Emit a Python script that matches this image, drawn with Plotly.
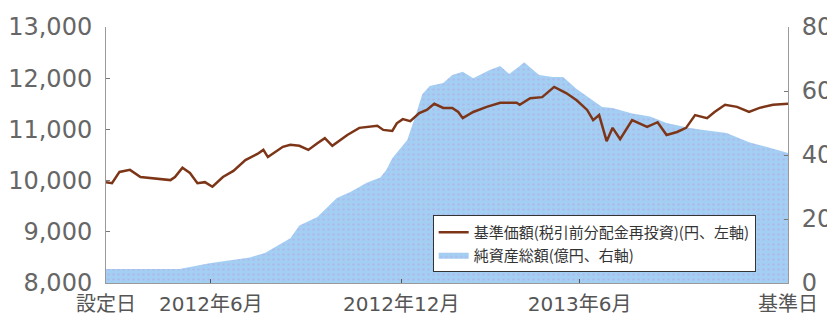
import plotly.graph_objects as go

# business-day index since inception
tick_pos = [0, 70, 197, 316, 455]
tick_text = ["設定日", "2012年6月", "2012年12月", "2013年6月", "基準日"]

nav_days = [0,4,9,16,23,29,36,43,46,51,56,61,66,71,78,85,93,101,105,108,
            118,123,129,135,141,146,151,161,169,178,181,185,191,194,198,203,209,214,219,225,
            231,235,238,245,254,263,274,276,283,291,299,307,314,321,325,329,334,338,343,351,
            361,368,374,381,387,393,401,406,413,421,429,436,445,455]
nav = [9970,9950,10170,10210,10070,10050,10030,10010,10070,10250,
       10150,9950,9970,9880,10070,10190,10400,10520,10600,10460,
       10660,10700,10680,10600,10730,10830,10680,10890,11030,11050,
       11070,10990,10970,11120,11200,11160,11320,11380,11500,11420,
       11420,11340,11220,11340,11440,11520,11520,11480,11610,11630,
       11830,11710,11570,11380,11180,11280,10770,11030,10810,11180,
       11050,11140,10890,10950,11030,11280,11220,11340,11480,11440,
       11340,11420,11480,11500]

asset_days = [0,49,56,69,96,106,123,129,141,154,163,174,183,187,191,198,201,207,211,216,
              225,231,238,245,256,263,269,276,279,285,289,298,305,314,323,331,338,351,363,374,
              387,396,414,429,441,455]
assets = [4.4,4.4,5,6.2,8,9.4,14,18,20.6,26.6,28.4,31.3,33,35.3,39,43,44.7,53,59,61.6,
          62.5,65,66,64,66.6,67.8,65.3,67.8,69,66.6,65,64.4,64.4,60.6,57.5,55,54.7,53,52,50,
          48.7,48,46.9,44,42.5,40.6]

left_ticks = [8000, 9000, 10000, 11000, 12000, 13000]
right_ticks = [0, 20, 40, 60, 80]

CJK = "Noto Sans CJK JP"
NUM = "DejaVu Sans"
MIX = "DejaVu Sans, Noto Sans CJK JP"
AXC = "#9a9a9a"

fig = go.Figure()
# area on primary (right-side) axis so the line on the overlaying axis is drawn on top
fig.add_trace(go.Scatter(
    x=asset_days, y=assets, yaxis="y", mode="lines",
    line=dict(width=0, color="#a3cff2"), fill="tozeroy", fillcolor="#a3cff2",
    fillpattern=dict(shape=".", fgcolor="#b7a4e6", bgcolor="#a3cff2", size=5, solidity=0.2),
    name="純資産総額(億円、右軸)", legendrank=2))
fig.add_trace(go.Scatter(
    x=nav_days, y=nav, yaxis="y2", mode="lines",
    line=dict(width=2.5, color="#7d3518"),
    name="基準価額(税引前分配金再投資)(円、左軸)", legendrank=1))

# page body has an 8px default margin, so the figure is sized/offset to compensate
fig.update_layout(
    width=827, height=308,
    margin=dict(l=98, r=47, t=19, b=33),
    paper_bgcolor="white", plot_bgcolor="white",
    font=dict(family=CJK, color="#555"),
    showlegend=True,
    legend=dict(x=0.479, y=0.266, xanchor="left", yanchor="top",
                bgcolor="white", bordercolor="#333", borderwidth=1,
                font=dict(size=15, color="#333", family=CJK),
                tracegroupgap=0, itemwidth=30),
    xaxis=dict(range=[0, 455], tickvals=tick_pos, ticktext=tick_text, automargin=False,
               showgrid=False, zeroline=False, showline=True, linecolor=AXC, linewidth=1,
               ticks="inside", ticklen=4, tickcolor="#555", ticklabelstandoff=3,
               tickfont=dict(size=20, color="#555", family=MIX)),
    yaxis=dict(range=[0, 80], tickvals=right_ticks, side="right", automargin=False,
               showgrid=False, zeroline=False, showline=True, linecolor=AXC, linewidth=1,
               ticks="inside", ticklen=4, tickcolor="#777", ticklabelstandoff=8,
               tickfont=dict(size=24, color="#666", family=NUM)),
    yaxis2=dict(range=[8000, 13000], tickvals=left_ticks, tickformat=",d",
                overlaying="y", side="left", automargin=False,
                showgrid=False, zeroline=False, showline=True, linecolor=AXC, linewidth=1,
                ticks="inside", ticklen=4, tickcolor="#777", ticklabelstandoff=8,
                tickfont=dict(size=24, color="#666", family=NUM)),
)

fig.write_html("out.html")
